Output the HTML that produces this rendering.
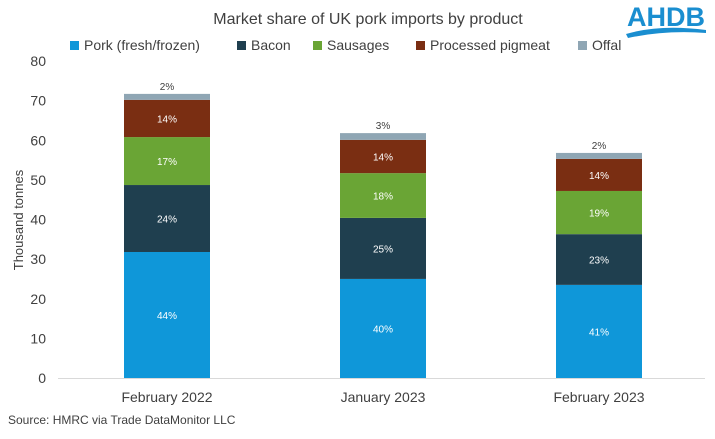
<!DOCTYPE html>
<html><head><meta charset="utf-8"><style>
body{margin:0;background:#fff;font-family:"Liberation Sans",sans-serif}
svg text{font-family:"Liberation Sans",sans-serif}
</style></head><body>
<svg id="c" width="715" height="434" xmlns="http://www.w3.org/2000/svg">
<text x="368" y="24" text-anchor="middle" font-size="16" fill="#404040">Market share of UK pork imports by product</text>
<g>
<text x="666" y="26" text-anchor="middle" font-size="27" font-weight="bold" fill="#1a8ed0">AHDB</text>
<path d="M626 34 Q660 24 706 30 L706 33 Q665 30 628 38 Z" fill="#1a8ed0"/>
</g>
<text transform="translate(23,220) rotate(-90)" text-anchor="middle" font-size="13" fill="#404040">Thousand tonnes</text>
<text x="8" y="424" font-size="12" fill="#404040">Source: HMRC via Trade DataMonitor LLC</text>
<g id="legend"></g><g id="axis"></g><g id="bars"></g>
</svg>
<script>
const categories=["February 2022","January 2023","February 2023"];
const seriesNames=["Pork (fresh/frozen)","Bacon","Sausages","Processed pigmeat","Offal"];
const pork=[31.8,25.0,23.5];
const bacon=[16.9,15.4,12.8];
const sausages=[12.1,11.3,10.9];
const processed=[9.4,8.4,8.1];
const offal=[1.5,1.7,1.5];
const porkPct=["44%","40%","41%"];
const baconPct=["24%","25%","23%"];
const sausagesPct=["17%","18%","19%"];
const processedPct=["14%","14%","14%"];
const offalPct=["2%","3%","2%"];
const yTicks=[0,10,20,30,40,50,60,70,80];
const colors=["#0f97d9","#1f3f4f","#6aa535","#7a2e12","#8fa6b4"];
const labelColors=["#fff","#fff","#fff","#fff","#404040"];
const NS="http://www.w3.org/2000/svg";
const y=v=>378-v*(317/80);
const x=i=>167+i*216;
const bw=86;
function mk(t,a,p){const e=document.createElementNS(NS,t);for(const k in a)e.setAttribute(k,a[k]);p.appendChild(e);return e;}
const ax=document.getElementById('axis');
yTicks.forEach(t=>{const e=mk('text',{x:46,y:y(t)+5,'text-anchor':'end','font-size':14,fill:'#404040'},ax);e.textContent=t;

});
const base=mk('line',{x1:58,x2:705,y1:378.5,y2:378.5,stroke:'#d9d9d9'},ax);


categories.forEach((c,i)=>{const e=mk('text',{x:x(i),y:402,'text-anchor':'middle','font-size':14,fill:'#404040'},ax);e.textContent=c;

});
const series=[pork,bacon,sausages,processed,offal];
const pcts=[porkPct,baconPct,sausagesPct,processedPct,offalPct];
const bg=document.getElementById('bars');
categories.forEach((c,i)=>{let cum=0;series.forEach((s,j)=>{const v=s[i];const r=mk('rect',{x:x(i)-bw/2,y:y(cum+v),width:bw,height:y(cum)-y(cum+v),fill:colors[j]},bg);


const ly=j===4?y(cum+v)-4:(y(cum)+y(cum+v))/2+4;
const t=mk('text',{x:x(i),y:ly,'text-anchor':'middle','font-size':10,fill:labelColors[j]},bg);t.textContent=pcts[j][i];


cum+=v;});});
const lg=document.getElementById('legend');
const lx=[70,237,313,416,578];
seriesNames.forEach((n,j)=>{const r=mk('rect',{x:lx[j],y:41,width:9,height:9,fill:colors[j]},lg);


const t=mk('text',{x:lx[j]+14,y:50,'font-size':14,fill:'#404040'},lg);t.textContent=n;

});
</script>
</body></html>
